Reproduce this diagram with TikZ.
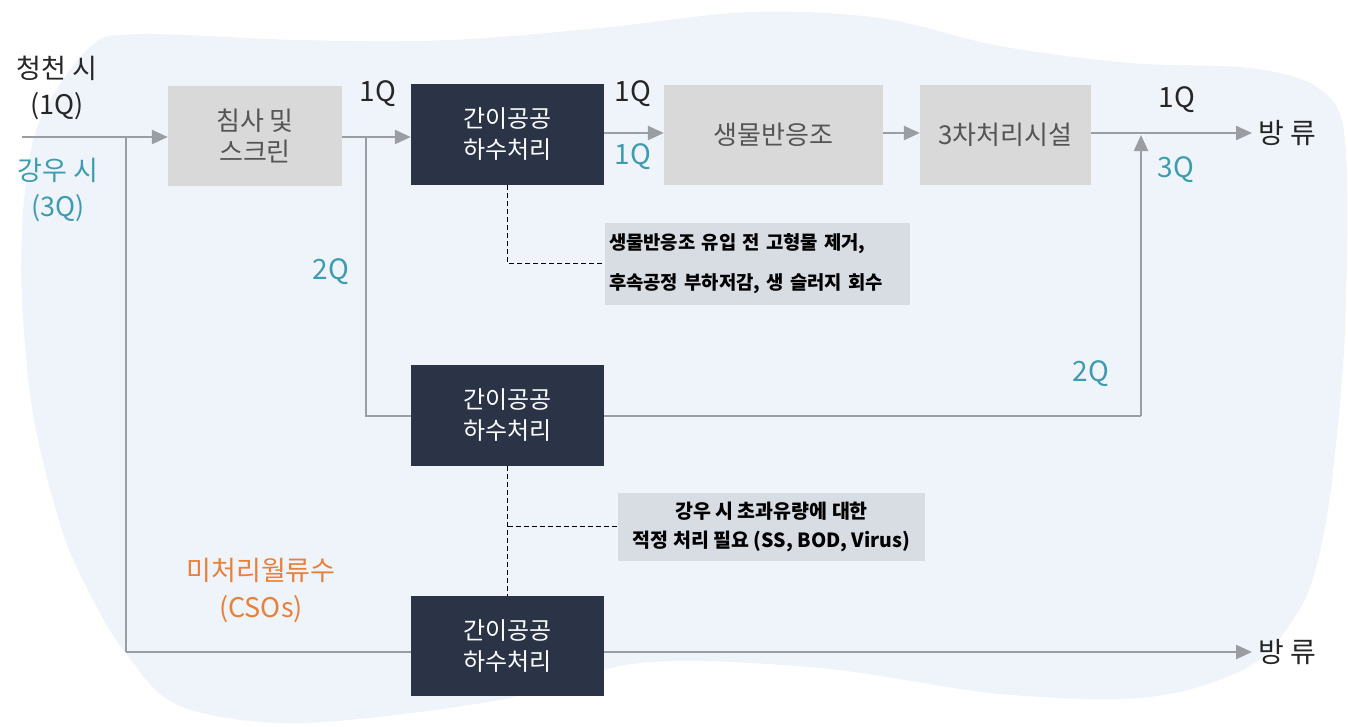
\documentclass[tikz,border=0pt]{standalone}
\usepackage{fontspec}
\setmainfont{Noto Sans CJK KR}
\usetikzlibrary{arrows.meta}
\definecolor{bgblob}{HTML}{EFF4FB}
\definecolor{graybox}{HTML}{D9D9D9}
\definecolor{graytext}{HTML}{555555}
\definecolor{darkbox}{HTML}{2B3446}
\definecolor{tealq}{HTML}{3D9CAE}
\definecolor{orangeq}{HTML}{E8803A}
\definecolor{lineg}{HTML}{9A9DA2}
\definecolor{notebox}{HTML}{D8DCE3}
\definecolor{darkt}{HTML}{262626}
\tikzset{
  procbox/.style={draw=none,fill=graybox,minimum width=174pt,minimum height=100pt,inner sep=0pt,text=graytext,font=\fontsize{26}{31}\selectfont,align=center},
  darkproc/.style={draw=none,fill=darkbox,minimum width=193pt,minimum height=101pt,inner sep=0pt,text=white,font=\fontsize{24}{31}\selectfont,align=center},
  notefill/.style={draw=none,fill=notebox,inner sep=0pt,text=black},
  flow/.style={draw=lineg,line width=2.4pt},
  flowarr/.style={flow,-{Triangle[length=16pt,width=14pt]}},
  dashline/.style={draw=black,line width=1.5pt,dash pattern=on 5pt off 3pt},
  lbl/.style={font=\fontsize{28}{32}\selectfont,inner sep=0pt},
}
\begin{document}
\begin{tikzpicture}[x=1pt,y=-1pt]
\useasboundingbox (0,0) rectangle (1348,726);
% background blob
\fill[bgblob] plot[smooth cycle,tension=0.55] coordinates {
  (90,47) (140,34) (300,40) (450,40) (600,28) (750,12) (880,18) (1000,46)
  (1130,63) (1250,68) (1318,88) (1345,140) (1345,330) (1332,480) (1318,560)
  (1298,612) (1250,666) (1150,697) (1000,694) (820,668) (640,663) (500,700)
  (300,723) (180,706) (127,655) (93,600) (63,533) (34,420) (22,300) (24,200) (40,120)};

% nodes
\node[procbox] (screen) at (255,136) {침사 및\\스크린};
\node[darkproc] (p1) at (507.5,134.5) {간이공공\\하수처리};
\node[procbox,minimum width=219pt] (bio) at (773.5,135) {생물반응조};
\node[procbox,minimum width=171pt] (tert) at (1005.5,135) {3차처리시설};
\node[darkproc] (p2) at (507.5,415.5) {간이공공\\하수처리};
\node[notefill,minimum width=305pt,minimum height=82pt,align=left,text width=297pt,font=\fontsize{18.8}{40}\selectfont\bfseries] (n1) at (757.5,263.5) {생물반응조 유입 전 고형물 제거,\\후속공정 부하저감, 생 슬러지 회수};
\node[notefill,minimum width=307pt,minimum height=68pt,align=center,font=\fontsize{19.5}{29}\selectfont\bfseries] (n2) at (771.5,526.5) {강우 시 초과유량에 대한\\적정 처리 필요 (SS, BOD, Virus)};

% text labels
\node[lbl,text=darkt,align=center,font=\fontsize{27}{36}\selectfont] (dry) at (57,88) {청천 시\\(1Q)};
\node[lbl,text=tealq,align=center,font=\fontsize{27}{36}\selectfont] (wet) at (58,190) {강우 시\\(3Q)};
\node[lbl,text=orangeq,align=center,font=\fontsize{27}{37}\selectfont] (cso) at (261,590) {미처리월류수\\(CSOs)};
\node[lbl,text=darkt] (q1a) at (378,94) {1Q};
\node[lbl,text=darkt] (q1b) at (633,94) {1Q};
\node[lbl,text=tealq] (q1c) at (633,157) {1Q};
\node[lbl,text=darkt] (q1d) at (1177,100) {1Q};
\node[lbl,text=tealq] (q3) at (1176,170) {3Q};
\node[lbl,text=tealq] (q2a) at (331,272) {2Q};
\node[lbl,text=tealq] (q2b) at (1091,374) {2Q};
\node[lbl,text=darkt,anchor=west,font=\fontsize{28}{32}\selectfont] (out1) at (1258,133) {방 류};
\node[lbl,text=darkt,anchor=west,font=\fontsize{28}{32}\selectfont] (out2) at (1258,652) {방 류};

% coordinates
\coordinate (in) at (22,137);
\coordinate (j1) at (126,137);
\coordinate (j1b) at (126,652);
\coordinate (j2) at (366,137);
\coordinate (j2b) at (366,416);
\coordinate (j3) at (1141,416);
\coordinate (j3t) at (1141,135);

% connectors
\draw[flowarr] (in) -- (screen.west |- in);
\draw[flow] (j1) -- (j1b);
\draw[flowarr] (j1b) -- ([xshift=-6pt]out2.west);
\draw[flowarr] (screen.east |- j2) -- (p1.west |- j2);
\draw[flow] (j2) -- (j2b) -- (p2.west |- j2b);
\draw[flowarr] (p1.east |- 0,133) -- (bio.west |- 0,133);
\draw[flowarr] (bio.east |- 0,133) -- (tert.west |- 0,133);
\draw[flowarr] (tert.east |- 0,133) -- ([xshift=-6pt]out1.west);
\draw[flow] (p2.east |- j3) -- (j3);
\draw[flowarr] (j3) -- (j3t);

\node[darkproc,minimum height=100pt] (p3) at (507.5,646) {간이공공\\하수처리};

% dashed
\draw[dashline] (p1.south) -- (p1.south |- n1.west) -- (n1.west);
\draw[dashline] (p2.south) -- (p3.north);
\draw[dashline] (p2.south |- n2.west) -- (n2.west);
\end{tikzpicture}
\end{document}
